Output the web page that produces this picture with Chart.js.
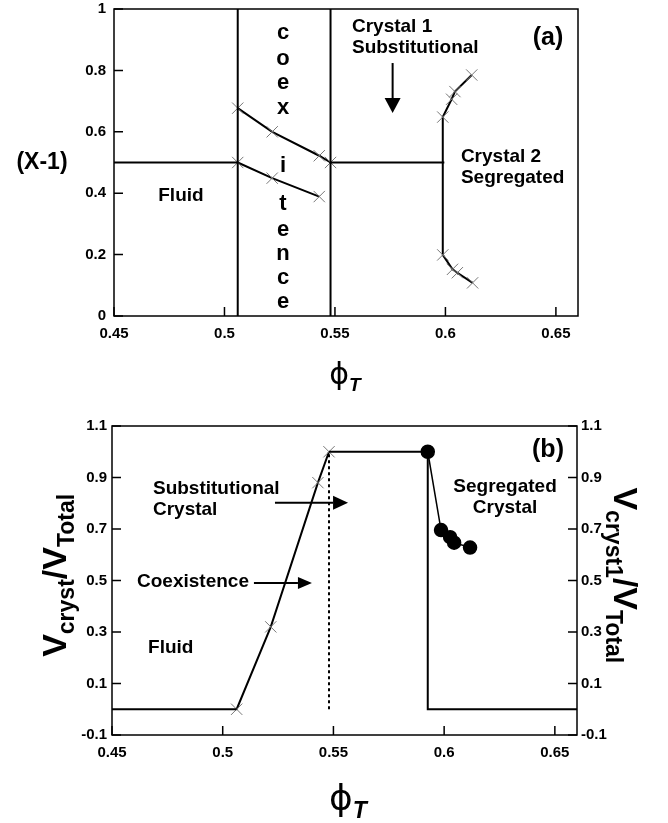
<!DOCTYPE html>
<html>
<head>
<meta charset="utf-8">
<script src="https://cdn.jsdelivr.net/npm/chart.js@4.4.0/dist/chart.umd.min.js"></script>
<style>
html,body{margin:0;padding:0;background:#fff;}
#wrap{position:relative;width:668px;height:823px;}
canvas{position:absolute;left:0;}
#ca{top:0;}
#cb{top:400px;}
</style>
</head>
<body>
<div id="wrap">
<canvas id="ca" width="668" height="400"></canvas>
<canvas id="cb" width="668" height="423"></canvas>
</div>
<script>
// ---------- tick values / labels ----------
const xTicks = [0.45, 0.5, 0.55, 0.6, 0.65];
const xTickLabels = ['0.45', '0.5', '0.55', '0.6', '0.65'];
const yTicksA = [0, 0.2, 0.4, 0.6, 0.8, 1];
const yTickLabelsA = ['0', '0.2', '0.4', '0.6', '0.8', '1'];
const yTicksB = [-0.1, 0.1, 0.3, 0.5, 0.7, 0.9, 1.1];
const yTickLabelsB = ['-0.1', '0.1', '0.3', '0.5', '0.7', '0.9', '1.1'];

// ---------- panel (a) data ----------
const aFluidX = [0.45, 0.506];
const aFluidY = [0.5, 0.5];
const aCoexLeftX = [0.506, 0.506];
const aCoexLeftY = [0, 1];
const aCoexRightX = [0.548, 0.548];
const aCoexRightY = [0, 1];
const aUpperX = [0.506, 0.5216, 0.5429, 0.548];
const aUpperY = [0.677, 0.600, 0.522, 0.500];
const aLowerX = [0.506, 0.5216, 0.5429];
const aLowerY = [0.500, 0.449, 0.389];
const aCryst1X = [0.548, 0.5995];
const aCryst1Y = [0.5, 0.5];
const aCryst2X = [0.6119, 0.6043, 0.6028, 0.5988, 0.5988, 0.6032, 0.6054, 0.6123];
const aCryst2Y = [0.785, 0.731, 0.706, 0.648, 0.199, 0.152, 0.141, 0.108];

// ---------- panel (b) data ----------
const bFluidX = [0.45, 0.5063];
const bFluidY = [0, 0];
const bSubstX = [0.5063, 0.5217, 0.543, 0.548];
const bSubstY = [0, 0.32, 0.88, 1.0];
const bPlateauX = [0.548, 0.5926, 0.5926, 0.66];
const bPlateauY = [1.0, 1.0, 0, 0];
const bDashX = [0.548, 0.548];
const bDashY = [0, 1.0];
const bSegX = [0.5926, 0.5986, 0.6027, 0.6045, 0.6117];
const bSegY = [1.0, 0.696, 0.668, 0.647, 0.628];

const FONT = '"Liberation Sans", Arial, Helvetica, sans-serif';
const pts = (xs, ys) => xs.map((x, i) => ({x: x, y: ys[i]}));

function lineDS(xs, ys, extra) {
  return Object.assign({
    data: pts(xs, ys), showLine: true, borderColor: '#000', borderWidth: 2,
    pointRadius: 0, fill: false, tension: 0
  }, extra || {});
}
function crossDS(xs, ys) {
  return lineDS(xs, ys, {pointStyle: 'crossRot', pointRadius: 8, pointBorderColor: '#777',
    pointBorderWidth: 1, pointBackgroundColor: '#777'});
}

// ---------- drawing helpers ----------
function richText(ctx, parts, x, y, align) {
  let w = 0;
  parts.forEach(p => { ctx.font = p.f; p.w = ctx.measureText(p.t).width; w += p.w; });
  let cx = align === 'center' ? x - w / 2 : x;
  ctx.textAlign = 'left';
  ctx.textBaseline = 'alphabetic';
  parts.forEach(p => { ctx.font = p.f; ctx.fillText(p.t, cx, y + (p.dy || 0)); cx += p.w; });
}
function arrow(ctx, x1, y1, x2, y2, hl, hw) {
  const a = Math.atan2(y2 - y1, x2 - x1);
  const bx = x2 - hl * Math.cos(a), by = y2 - hl * Math.sin(a);
  ctx.beginPath(); ctx.moveTo(x1, y1); ctx.lineTo(bx, by); ctx.lineWidth = 2; ctx.stroke();
  ctx.beginPath(); ctx.moveTo(x2, y2);
  ctx.lineTo(bx + hw * Math.sin(a), by - hw * Math.cos(a));
  ctx.lineTo(bx - hw * Math.sin(a), by + hw * Math.cos(a));
  ctx.closePath(); ctx.fill();
}
function frameAndTicks(chart, yIds, tickLen) {
  const ctx = chart.ctx, ca = chart.chartArea, xs = chart.scales.x;
  ctx.save();
  ctx.strokeStyle = '#000'; ctx.lineWidth = 1.5;
  ctx.strokeRect(ca.left, ca.top, ca.right - ca.left, ca.bottom - ca.top);
  ctx.beginPath();
  xs.ticks.forEach(t => {
    const px = xs.getPixelForValue(t.value);
    ctx.moveTo(px, ca.bottom); ctx.lineTo(px, ca.bottom - tickLen);
  });
  yIds.forEach(id => {
    const s = chart.scales[id];
    s.ticks.forEach(t => {
      const py = s.getPixelForValue(t.value);
      if (s.position === 'right') { ctx.moveTo(ca.right, py); ctx.lineTo(ca.right - tickLen, py); }
      else { ctx.moveTo(ca.left, py); ctx.lineTo(ca.left + tickLen, py); }
    });
  });
  ctx.stroke();
  ctx.restore();
}
function noPad(s) { s.paddingTop = 0; s.paddingBottom = 0; s.paddingLeft = 0; s.paddingRight = 0; }

const tickFont = {family: FONT, size: 15, weight: 'bold'};
function xScale(h) {
  return {
    type: 'linear', min: 0.45, max: 0.66,
    grid: {display: false, drawTicks: false}, border: {display: false},
    ticks: {font: tickFont, color: '#000', padding: 9, maxRotation: 0,
      callback: (v) => xTickLabels[xTicks.indexOf(v)]},
    afterBuildTicks: s => { s.ticks = xTicks.map(v => ({value: v})); },
    afterFit: s => { s.height = h; noPad(s); }
  };
}

// ---------- panel (a) ----------
const pluginA = {
  id: 'annA',
  afterDraw(chart) {
    frameAndTicks(chart, ['y'], 9);
    const ctx = chart.ctx, X = chart.scales.x, Y = chart.scales.y, ca = chart.chartArea;
    const px = v => X.getPixelForValue(v), py = v => Y.getPixelForValue(v);
    ctx.save();
    ctx.fillStyle = '#000'; ctx.strokeStyle = '#000';
    ctx.textBaseline = 'middle';
    const bold = s => 'bold ' + s + 'px ' + FONT;
    ctx.font = bold(19); ctx.textAlign = 'center';
    ctx.fillText('Fluid', px(0.4803), py(0.391));
    // stacked letters
    const letters = ['c', 'o', 'e', 'x', 'i', 't', 'e', 'n', 'c', 'e'];
    const letterY = [0.922, 0.837, 0.759, 0.678, 0.489, 0.365, 0.280, 0.202, 0.124, 0.046];
    ctx.font = bold(22);
    letters.forEach((l, i) => ctx.fillText(l, px(0.5265), py(letterY[i])));
    ctx.textAlign = 'left'; ctx.font = bold(19);
    ctx.fillText('Crystal 1', px(0.5577), py(0.941));
    ctx.fillText('Substitutional', px(0.5577), py(0.873));
    ctx.fillText('Crystal 2', px(0.6070), py(0.518));
    ctx.fillText('Segregated', px(0.6070), py(0.450));
    ctx.textAlign = 'center'; ctx.font = bold(25);
    ctx.fillText('(a)', px(0.6464), py(0.906));
    arrow(ctx, px(0.5761), py(0.824), px(0.5761), py(0.661), 15, 8);
    // y title
    ctx.font = bold(23); ctx.textAlign = 'center';
    ctx.fillText('(X-1)', ca.left - 72, py(0.5));
    // x title
    richText(ctx, [
      {t: '\u03D5', f: '30px "DejaVu Sans", sans-serif'},
      {t: 'T', f: 'italic bold 19px ' + FONT, dy: 7}
    ], 345, 384, 'center');
    ctx.restore();
  }
};

new Chart(document.getElementById('ca'), {
  type: 'scatter',
  data: {datasets: [
    lineDS(aFluidX, aFluidY),
    lineDS(aCoexLeftX, aCoexLeftY),
    lineDS(aCoexRightX, aCoexRightY),
    lineDS(aCryst1X, aCryst1Y),
    crossDS(aUpperX, aUpperY),
    crossDS(aLowerX, aLowerY),
    crossDS(aCryst2X, aCryst2Y)
  ]},
  options: {
    responsive: false, animation: false, events: [],
    layout: {padding: {top: 9, left: 0, right: 90, bottom: 0}},
    plugins: {legend: {display: false}, tooltip: {enabled: false}},
    scales: {
      x: xScale(84),
      y: {
        type: 'linear', min: 0, max: 1,
        grid: {display: false, drawTicks: false}, border: {display: false},
        ticks: {font: tickFont, color: '#000', padding: 8,
          callback: (v) => yTickLabelsA[yTicksA.indexOf(v)]},
        afterBuildTicks: s => { s.ticks = yTicksA.map(v => ({value: v})); },
        afterFit: s => { s.width = 114; noPad(s); }
      }
    }
  },
  plugins: [pluginA]
});

// ---------- panel (b) ----------
const pluginB = {
  id: 'annB',
  afterDraw(chart) {
    frameAndTicks(chart, ['y', 'y2'], 9);
    const ctx = chart.ctx, X = chart.scales.x, Y = chart.scales.y, ca = chart.chartArea;
    const px = v => X.getPixelForValue(v), py = v => Y.getPixelForValue(v);
    ctx.save();
    ctx.fillStyle = '#000'; ctx.strokeStyle = '#000';
    ctx.textBaseline = 'middle';
    const bold = s => 'bold ' + s + 'px ' + FONT;
    ctx.font = bold(25); ctx.textAlign = 'center';
    ctx.fillText('(b)', px(0.6469), py(1.005));
    ctx.font = bold(19);
    ctx.fillText('Segregated', px(0.6275), py(0.864));
    ctx.fillText('Crystal', px(0.6275), py(0.782));
    ctx.textAlign = 'left';
    ctx.fillText('Substitutional', px(0.4685), py(0.856));
    ctx.fillText('Crystal', px(0.4685), py(0.774));
    ctx.fillText('Coexistence', px(0.4613), py(0.494));
    ctx.fillText('Fluid', px(0.4663), py(0.237));
    arrow(ctx, px(0.5236), py(0.802), px(0.5566), py(0.802), 15, 7);
    arrow(ctx, px(0.5141), py(0.490), px(0.5403), py(0.490), 14, 6);
    // left title (rotated -90)
    const big = 'bold 34px ' + FONT, sub = 'bold 23px ' + FONT;
    ctx.save();
    ctx.translate(66, py(0.52));
    ctx.rotate(-Math.PI / 2);
    richText(ctx, [
      {t: 'V', f: big}, {t: 'cryst', f: sub, dy: 8},
      {t: '/', f: big}, {t: 'V', f: big}, {t: 'Total', f: sub, dy: 8}
    ], 0, 0, 'center');
    ctx.restore();
    // right title (rotated +90)
    ctx.save();
    ctx.translate(614, py(0.52));
    ctx.rotate(Math.PI / 2);
    richText(ctx, [
      {t: 'V', f: big}, {t: 'cryst1', f: sub, dy: 8},
      {t: '/', f: big}, {t: 'V', f: big}, {t: 'Total', f: sub, dy: 8}
    ], 0, 0, 'center');
    ctx.restore();
    // x title
    richText(ctx, [
      {t: '\u03D5', f: '36px "DejaVu Sans", sans-serif'},
      {t: 'T', f: 'italic bold 23px ' + FONT, dy: 8}
    ], 348, 410, 'center');
    ctx.restore();
  }
};

const yB = (pos, pad, w) => ({
  type: 'linear', position: pos, min: -0.1, max: 1.1,
  grid: {display: false, drawTicks: false}, border: {display: false},
  ticks: {font: tickFont, color: '#000', padding: pad,
    callback: (v) => yTickLabelsB[yTicksB.indexOf(v)]},
  afterBuildTicks: s => { s.ticks = yTicksB.map(v => ({value: v})); },
  afterFit: s => { s.width = w; noPad(s); }
});

new Chart(document.getElementById('cb'), {
  type: 'scatter',
  data: {datasets: [
    lineDS(bFluidX, bFluidY),
    lineDS(bPlateauX, bPlateauY),
    lineDS(bDashX, bDashY, {borderDash: [3, 3]}),
    crossDS(bSubstX, bSubstY),
    lineDS(bSegX, bSegY, {borderWidth: 1.5, pointStyle: 'circle', pointRadius: 6.5,
      pointBackgroundColor: '#000', pointBorderColor: '#000'})
  ]},
  options: {
    responsive: false, animation: false, events: [],
    layout: {padding: {top: 26, left: 0, right: 0, bottom: 0}},
    plugins: {legend: {display: false}, tooltip: {enabled: false}},
    scales: {
      x: xScale(88),
      y: yB('left', 5, 112),
      y2: yB('right', 4, 91)
    }
  },
  plugins: [pluginB]
});
</script>
</body>
</html>
